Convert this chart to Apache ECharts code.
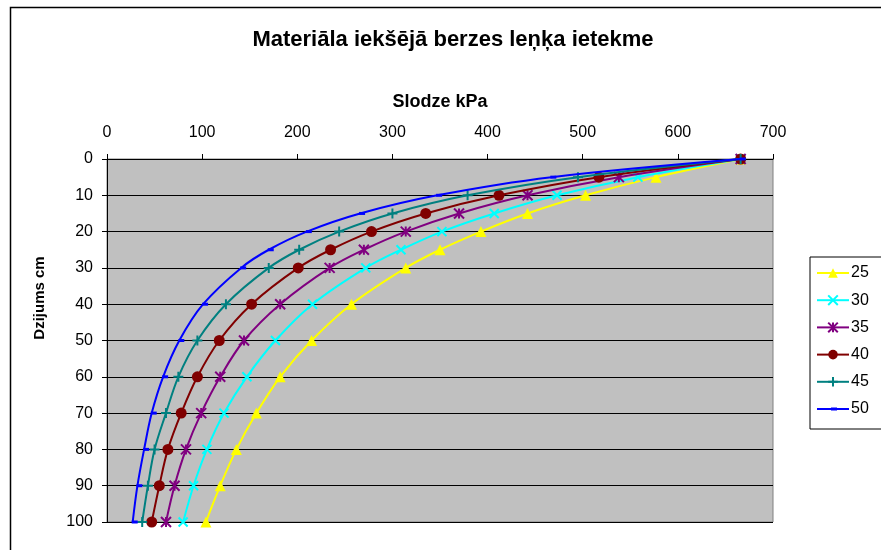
<!DOCTYPE html>
<html>
<head>
<meta charset="utf-8">
<script src="https://cdn.jsdelivr.net/npm/echarts@6/dist/echarts.min.js"></script>
<style>
  html, body { margin: 0; padding: 0; background: #fff; }
  #chart { width: 881px; height: 550px; }
</style>
</head>
<body>
<div id="chart"></div>
<script>
// Depths (cm) at which the load is computed
const depths = [0, 5, 10, 15, 20, 25, 30, 40, 50, 60, 70, 80, 90, 100];

// Load (kPa) for each internal friction angle
const angleNames = ['25', '30', '35', '40', '45', '50'];
const load25 = [666, 577, 503, 442, 393, 350, 314, 257, 215, 182, 157, 136, 119, 104];
const load30 = [666, 558, 473, 407, 352, 309, 272, 216, 177, 147, 123, 105, 91, 80];
const load35 = [666, 538, 442, 370, 314, 270, 234, 182, 144, 119, 99, 83, 71, 62];
const load40 = [666, 517, 412, 335, 278, 235, 201, 152, 118, 95, 78, 64, 55, 47];
const load45 = [666, 495, 379, 300, 244, 202, 170, 125, 95, 75, 62, 50, 43, 37];
const load50 = [666, 467, 347, 266, 210, 170, 141, 101, 76, 59, 47, 39, 32, 27];

const xTicks = { min: 0, max: 700, step: 100 };
const yTicks = { min: 0, max: 100, step: 10 };

const FONT = '"Liberation Sans", Arial, sans-serif';

// Marker look of each series (Excel-like markers)
const looks = [
  { color: '#FFFF00', symbol: 'triangle', size: 11, stroke: false },
  { color: '#00FFFF', symbol: 'path://M0,0L10,10M10,0L0,10', size: 9, stroke: true },
  { color: '#800080', symbol: 'path://M0,0L10,10M10,0L0,10M5,0L5,10', size: 10, stroke: true },
  { color: '#800000', symbol: 'circle', size: 11, stroke: false },
  { color: '#008080', symbol: 'path://M5,0L5,10M0,5L10,5', size: 10, stroke: true },
  { color: '#0000FF', symbol: 'rect', size: [6, 3], stroke: false, offset: [2, 0] }
];

const loads = [load25, load30, load35, load40, load45, load50];

const series = loads.map((vals, i) => {
  const lk = looks[i];
  return {
    name: angleNames[i],
    type: 'line',
    smooth: 0.35,
    data: vals.map((v, j) => [v, depths[j]]),
    symbol: lk.symbol,
    symbolSize: lk.size,
    symbolOffset: lk.offset || [0, 0],
    showAllSymbol: true,
    lineStyle: { color: lk.color, width: 2 },
    itemStyle: lk.stroke
      ? { color: 'none', borderColor: lk.color, borderWidth: 2 }
      : { color: lk.color, borderWidth: 0 },
    emphasis: { disabled: true },
    z: 3 + i
  };
});

// Legend entries; the dash marker gets a line-plus-dash icon of its own
const legendData = angleNames.map((n, i) => i === 5
  ? { name: n, icon: 'path://M0,0.6L32,0.6L32,2.4L0,2.4Z M14,0L20,0L20,3L14,3Z' }
  : { name: n });

const chart = echarts.init(document.getElementById('chart'), null, { renderer: 'canvas' });
chart.setOption({
  animation: false,
  backgroundColor: '#fff',
  title: {
    text: 'Materiāla iekšējā berzes leņķa ietekme',
    left: 448,
    textAlign: 'center',
    top: 24,
    textStyle: { fontFamily: FONT, fontSize: 22, fontWeight: 'bold', color: '#000' }
  },
  graphic: [{
    type: 'rect',
    shape: { x: 10.5, y: 7.5, width: 900, height: 600 },
    style: { fill: 'none', stroke: '#000', lineWidth: 1.5 },
    silent: true,
    z: -1
  }, {
    type: 'text',
    x: 40,
    y: 298,
    rotation: Math.PI / 2,
    style: {
      text: 'Dzijums cm',
      fontFamily: FONT, fontSize: 15, fontWeight: 'bold', fill: '#000',
      align: 'center', verticalAlign: 'middle'
    },
    silent: true
  }],
  grid: {
    left: 107, right: 108, top: 159, bottom: 28,
    show: true,
    backgroundColor: '#C0C0C0',
    borderColor: '#808080',
    borderWidth: 1
  },
  legend: {
    orient: 'vertical',
    left: 810,
    top: 257,
    padding: [8, 40, 12, 6],
    itemWidth: 32,
    itemHeight: 12,
    itemGap: 11.2,
    borderColor: '#000',
    borderWidth: 1,
    backgroundColor: '#fff',
    textStyle: { fontFamily: FONT, fontSize: 16, color: '#000', padding: [0, 0, 0, -3] },
    data: legendData
  },
  xAxis: {
    type: 'value',
    position: 'top',
    min: xTicks.min, max: xTicks.max, interval: xTicks.step,
    name: 'Slodze kPa',
    nameLocation: 'middle',
    nameGap: 48,
    nameTextStyle: { fontFamily: FONT, fontSize: 18, fontWeight: 'bold', color: '#000' },
    axisLine: { show: true, lineStyle: { color: '#000', width: 1 } },
    axisTick: { show: true, length: 5, lineStyle: { color: '#000' } },
    axisLabel: { fontFamily: FONT, fontSize: 16, color: '#000', margin: 18 },
    splitLine: { show: false }
  },
  yAxis: {
    type: 'value',
    inverse: true,
    min: yTicks.min, max: yTicks.max, interval: yTicks.step,
    axisLine: { show: true, lineStyle: { color: '#000', width: 1 } },
    axisTick: { show: true, length: 5, lineStyle: { color: '#000' } },
    axisLabel: { fontFamily: FONT, fontSize: 16, color: '#000', margin: 14 },
    splitLine: { show: true, lineStyle: { color: '#000', width: 1 } }
  },
  series: series
});
</script>
</body>
</html>
